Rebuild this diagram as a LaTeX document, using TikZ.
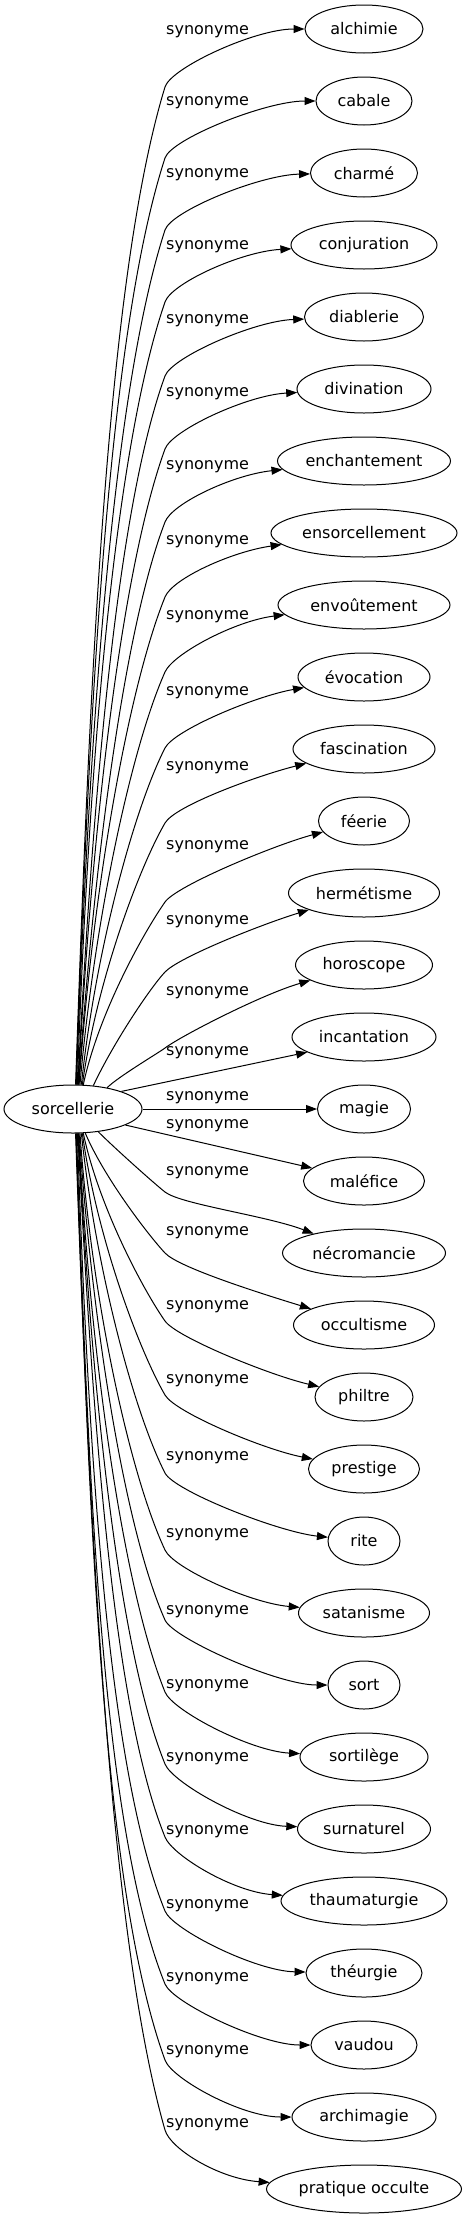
\documentclass[tikz,border=0pt]{standalone}
\usepackage{fontspec}
\setmainfont{DejaVu Sans}
\usetikzlibrary{arrows.meta,shapes.geometric,calc}
\begin{document}
\begin{tikzpicture}[x=1pt,y=1pt,
  word/.style={ellipse, draw, line width=1pt, inner sep=0pt, minimum height=48pt, font=\fontsize{16}{19}\selectfont},
  lbl/.style={inner sep=0pt, anchor=west, font=\fontsize{16}{19}\selectfont},
  syn/.style={line width=1pt, -{Triangle[length=11pt,width=8pt]}}]
\useasboundingbox (0,0) rectangle (467,-2219);
\node[word, minimum width=138pt] (sorc) at (73,-1109) {sorcellerie};
\foreach \t/\w [count=\i from 0] in {alchimie/118, cabale/96, charmé/107, conjuration/146, diablerie/119, divination/134, enchantement/173, ensorcellement/186, envoûtement/172, évocation/132, fascination/142, féerie/91, hermétisme/151, horoscope/137, incantation/144, magie/93, maléfice/121, nécromancie/163, occultisme/141, philtre/98, prestige/111, rite/72, satanisme/131, sort/72, sortilège/128, surnaturel/133, thaumaturgie/166, théurgie/116, vaudou/106, archimagie/144, pratique occulte/195}
  {\node[word, minimum width=\w pt] (n\i) at (364,-29-72*\i) {\t};}
\foreach \y [count=\i from 0] in {32,103,175,247,321,394,467,542,617,693,768,847,922,993,1053,1098,1126,1173,1233,1307,1381,1458,1535,1612,1686,1759,1832,1906,1979,2052,2125}
  {\node[lbl] (s\i) at (166,-\y) {synonyme};}
% upper edges
\foreach \i/\sa/\ao/\yb/\tb/\ta in {0/84/88/87/73/180, 1/83/88/158/72/180, 2/82/88/230/72/181, 3/80/88/302/71/183, 4/79/87/376/70/182, 5/78/87/449/70/183, 6/77/86/522/69/186, 7/76/86/597/68/188, 8/74/85/672/66/187, 9/71/84/748/63/190, 10/69/82/823/60/194, 11/67/78/902/55/195, 12/49/65/972/47/197, 13/32/45/1048/37/196}
{
  \pgfmathsetmacro\La{0.4*abs(1086-\yb)}
  \pgfmathsetmacro\Lb{0.2*abs(1086-\yb)}
  \coordinate (b\i) at (165,-\yb);
  \draw[syn] (sorc.\sa) .. controls ($(sorc.\sa)+(\ao:\La pt)$) and ($(b\i)+(\tb+180:\Lb pt)$) .. (b\i)
    .. controls ($(b\i)+(\tb:20pt)$) and ($(n\i.\ta)+(\ta:50pt)$) .. (n\i.\ta);
}
% lower edges
\foreach \i/\sa/\ao/\yb/\tb/\ta in {17/-42/-45/1192/-38/159, 18/-63/-67/1253/-47/163, 19/-67/-78/1321/-55/167, 20/-69/-82/1395/-60/169, 21/-71/-84/1473/-63/174, 22/-74/-86/1550/-65/175, 23/-76/-86/1620/-66/180, 24/-77/-87/1692/-68/177, 25/-78/-87/1764/-68/178, 26/-79/-87/1837/-68/176, 27/-80/-88/1911/-68/179, 28/-82/-88/1984/-68/180, 29/-83/-88/2060/-70/180, 30/-84/-88/2130/-74/176}
{
  \pgfmathsetmacro\La{0.4*abs(\yb-1132)}
  \pgfmathsetmacro\Lb{0.2*abs(\yb-1132)}
  \coordinate (b\i) at (165,-\yb);
  \draw[syn] (sorc.\sa) .. controls ($(sorc.\sa)+(\ao:\La pt)$) and ($(b\i)+(\tb+180:\Lb pt)$) .. (b\i)
    .. controls ($(b\i)+(\tb:20pt)$) and ($(n\i.\ta)+(\ta:50pt)$) .. (n\i.\ta);
}
% straight edges
\draw[syn] (sorc.20) -- (n14.195);
\draw[syn] (sorc.east) -- (n15.west);
\draw[syn] (sorc.-17) -- (n16.166);
\end{tikzpicture}
\end{document}
